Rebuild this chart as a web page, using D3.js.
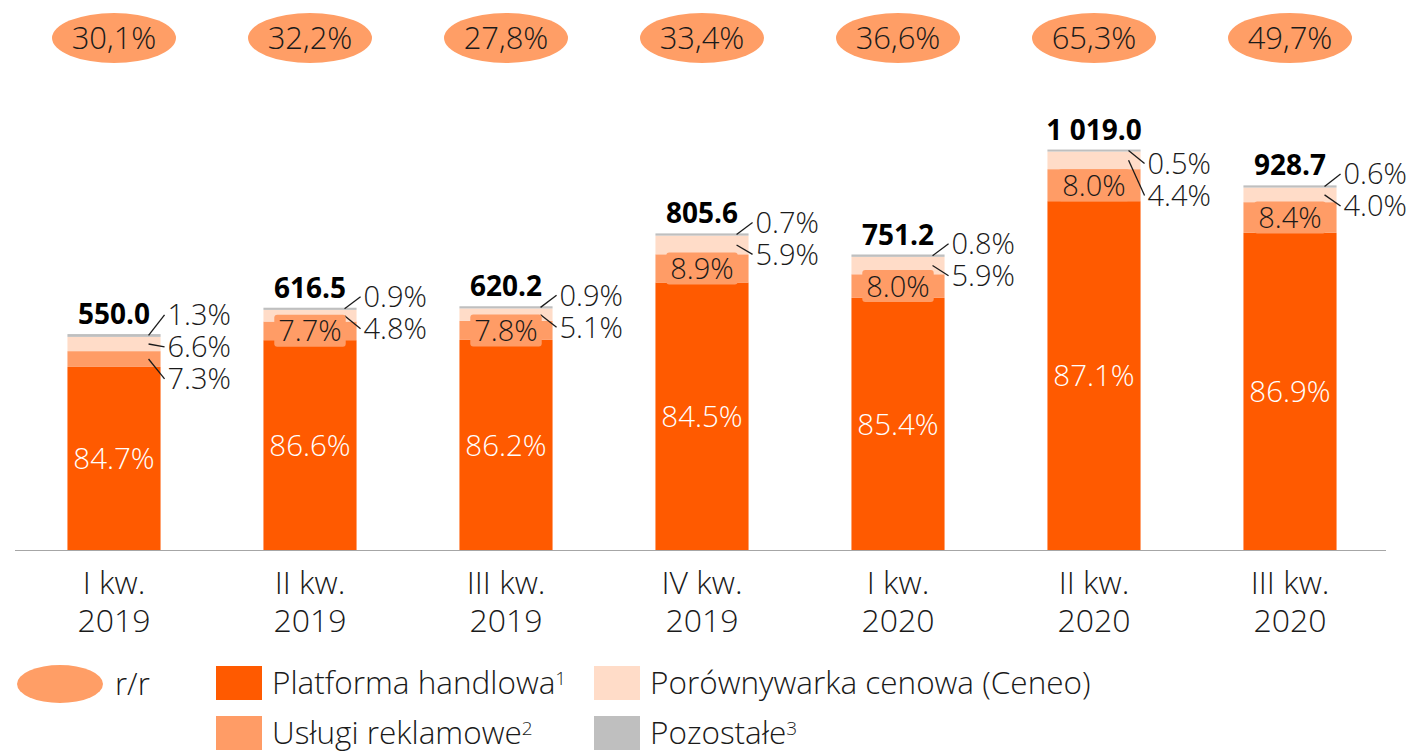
<!DOCTYPE html>
<html>
<head>
<meta charset="utf-8">
<script src="https://cdn.jsdelivr.net/npm/d3@7"></script>
<style>
  body { margin: 0; background: #fff; }
  svg text { font-family: "Open Sans", sans-serif; font-weight: 300; fill: #1a1a1a; }
</style>
</head>
<body>
<div id="chart"></div>
<script>
const WIDTH = 1412;
const HEIGHT = 751;

// data
const quarters = ["I kw.", "II kw.", "III kw.", "IV kw.", "I kw.", "II kw.", "III kw."];
const years = ["2019", "2019", "2019", "2019", "2020", "2020", "2020"];
const totals = [550.0, 616.5, 620.2, 805.6, 751.2, 1019.0, 928.7];
const yoy = ["30,1%", "32,2%", "27,8%", "33,4%", "36,6%", "65,3%", "49,7%"];
const platforma = [84.7, 86.6, 86.2, 84.5, 85.4, 87.1, 86.9];
const reklamowe = [7.3, 7.7, 7.8, 8.9, 8.0, 8.0, 8.4];
const ceneo = [6.6, 4.8, 5.1, 5.9, 5.9, 4.4, 4.0];
const pozostale = [1.3, 0.9, 0.9, 0.7, 0.8, 0.5, 0.6];

const seriesNames = ["Platforma handlowa", "Usługi reklamowe", "Porównywarka cenowa (Ceneo)", "Pozostałe"];
const colors = ["#ff5a00", "#ff9c66", "#ffdcc8", "#bfbfbf"];

const svg = d3.select("#chart").append("svg")
  .attr("width", WIDTH)
  .attr("height", HEIGHT);

const x = d3.scaleBand()
  .domain(d3.range(totals.length))
  .range([16, 1388])
  .paddingInner(0.525)
  .paddingOuter(0.2625);

const y = d3.scaleLinear()
  .domain([0, 1100])
  .range([550, 117.7]);

// build stacked rows (values in mln)
const rows = totals.map((t, i) => ({
  i: i,
  total: t,
  pct: [platforma[i], reklamowe[i], ceneo[i], pozostale[i]]
}));

const stackKeys = [0, 1, 2, 3];
const stack = d3.stack()
  .keys(stackKeys)
  .value((d, k) => d.total * d.pct[k] / 100);
const stacked = stack(rows);

// bars
svg.append("g").selectAll("g")
  .data(stacked)
  .join("g")
  .attr("fill", (d) => colors[d.key])
  .selectAll("rect")
  .data((d) => d)
  .join("rect")
  .attr("x", (d) => x(d.data.i))
  .attr("width", x.bandwidth())
  .attr("y", (d) => y(d[1]))
  .attr("height", (d) => y(d[0]) - y(d[1]));

// x axis
const axis = svg.append("g")
  .attr("transform", `translate(0, ${y(0)})`)
  .call(d3.axisBottom(x).tickSize(0).tickSizeOuter(0).tickFormat(""));
axis.select(".domain")
  .attr("stroke", "#a6a6a6")
  .attr("d", "M15,0.5H1386");
axis.selectAll(".tick text").remove();
axis.selectAll(".tick").each(function (d) {
  const t = d3.select(this).append("text")
    .attr("text-anchor", "middle")
    .style("font-size", "32px")
    .style("fill", "#1a1a1a");
  t.append("tspan").attr("x", 0).attr("y", 44).text(quarters[d]);
  t.append("tspan").attr("x", 0).attr("y", 82).text(years[d]);
});

// r/r ellipses
const yoyG = svg.append("g").selectAll("g")
  .data(yoy)
  .join("g")
  .attr("transform", (d, i) => `translate(${x(i) + x.bandwidth() / 2}, 38)`);
yoyG.append("ellipse")
  .attr("rx", 62)
  .attr("ry", 25)
  .attr("fill", "#ff9e66");
yoyG.append("text")
  .attr("text-anchor", "middle")
  .attr("dy", "0.36em")
  .style("font-size", "31px")
  .text((d) => d);

// total labels
svg.append("g").selectAll("text")
  .data(totals)
  .join("text")
  .attr("x", (d, i) => x(i) + x.bandwidth() / 2)
  .attr("y", (d) => y(d) - 10)
  .attr("text-anchor", "middle")
  .style("font-size", "28px")
  .style("font-weight", 700)
  .style("fill", "#000")
  .text((d) => d.toFixed(1).replace(/^(\d)(\d{3})/, "$1 $2"));

const fmt = (v) => v.toFixed(1) + "%";

// labels inside bars and callouts
rows.forEach((r) => {
  const segs = stackKeys.map((k) => stacked[k][r.i]);
  const cx = x(r.i) + x.bandwidth() / 2;
  const right = x(r.i) + x.bandwidth();

  // platforma
  svg.append("text")
    .attr("x", cx)
    .attr("y", (y(segs[0][0]) + y(segs[0][1])) / 2)
    .attr("dy", "0.36em")
    .attr("text-anchor", "middle")
    .style("font-size", "29.5px")
    .style("fill", "#fff")
    .text(fmt(r.pct[0]));

  // callouts on the right
  const outside = r.i === 0 ? [3, 2, 1] : [3, 2];
  let startY = y(r.total) - (r.i === 0 ? 19 : 11);
  if (r.i === 5) startY = y(r.total) + 14;
  outside.forEach((k, j) => {
    const ly = startY + j * 32;
    const sy = (y(segs[k][0]) + y(segs[k][1])) / 2;
    svg.append("line")
      .attr("x1", right - 12).attr("y1", sy)
      .attr("x2", right + 4).attr("y2", ly)
      .attr("stroke", "#1a1a1a")
      .attr("stroke-width", 1.3);
    svg.append("text")
      .attr("x", right + 7)
      .attr("y", ly)
      .attr("dy", "0.36em")
      .style("font-size", "29px")
      .text(fmt(r.pct[k]));
  });

  if (r.i > 0) {
    const my = (y(segs[1][0]) + y(segs[1][1])) / 2;
    const lbl = svg.append("text")
      .attr("x", cx)
      .attr("y", my)
      .attr("dy", "0.36em")
      .attr("text-anchor", "middle")
      .style("font-size", "29px")
      .text(fmt(r.pct[1]));
    const bb = lbl.node().getBBox();
    svg.insert("rect", () => lbl.node())
      .attr("x", bb.x - 4)
      .attr("y", my - 16)
      .attr("width", bb.width + 8)
      .attr("height", 32)
      .attr("rx", 3)
      .attr("fill", colors[1]);
  }
});

// legend
const legend = svg.append("g");
legend.append("ellipse")
  .attr("cx", 60).attr("cy", 684)
  .attr("rx", 43).attr("ry", 19)
  .attr("fill", "#ff9e66");
legend.append("text")
  .attr("x", 115).attr("y", 684)
  .attr("dy", "0.36em")
  .style("font-size", "31px")
  .text("r/r");

const legendPos = [[216, 666], [216, 716], [594, 666], [594, 716]];
const sups = ["1", "2", "", "3"];
seriesNames.forEach((name, k) => {
  const [lx, ly] = legendPos[k];
  legend.append("rect")
    .attr("x", lx).attr("y", ly)
    .attr("width", 46).attr("height", 34)
    .attr("fill", colors[k]);
  const t = legend.append("text")
    .attr("x", lx + 56).attr("y", ly + 17)
    .attr("dy", "0.36em")
    .style("font-size", "31.5px")
    .text(name);
  if (sups[k]) {
    t.append("tspan")
      .attr("dy", "-0.5em")
      .style("font-size", "19px")
      .text(sups[k]);
  }
});
</script>
</body>
</html>
